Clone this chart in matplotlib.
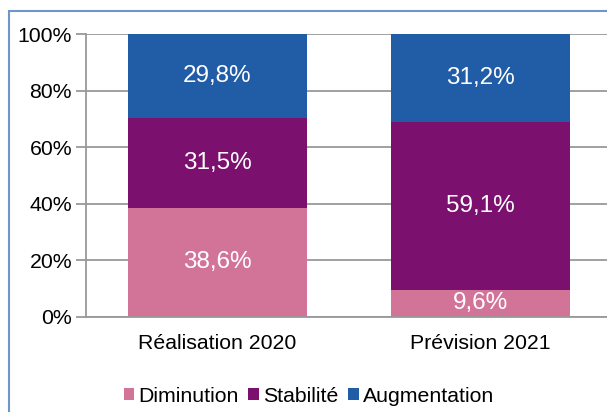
import matplotlib
matplotlib.use("Agg")
import matplotlib.pyplot as plt
from matplotlib.patches import Rectangle
import numpy as np

plt.rcParams['font.family'] = ['Liberation Sans', 'DejaVu Sans']

categories = ["Réalisation 2020", "Prévision 2021"]
series_names = ["Diminution", "Stabilité", "Augmentation"]
diminution = [38.6, 9.6]
stabilite = [31.5, 59.1]
augmentation = [29.8, 31.2]
colors = ["#D27498", "#7B106F", "#215CA6"]
yticks = [0, 20, 40, 60, 80, 100]

fig = plt.figure(figsize=(6.07, 4.12), dpi=100)
W, H = 607, 412
ax = fig.add_axes([86 / W, 1 - 317 / H, 526 / W, (317 - 34) / H])

data = np.array([diminution, stabilite, augmentation])
totals = data.sum(axis=0)
pct = data / totals * 100
x = np.arange(len(categories))
bottom = np.zeros(len(categories))
for i, name in enumerate(series_names):
    bars = ax.bar(x, pct[i], 0.677, bottom=bottom, color=colors[i], label=name, zorder=3)
    for j in range(len(categories)):
        ax.text(x[j], bottom[j] + pct[i][j] / 2, f"{data[i][j]:.1f}%".replace(".", ","),
                ha="center", va="center", color="white", fontsize=17.5, zorder=4)
    bottom += pct[i]

ax.set_xlim(-0.5, 1.5)
ax.set_ylim(0, 100)
ax.set_yticks(yticks)
ax.set_yticklabels([f"{t}%" for t in yticks], fontsize=15.3)
ax.set_xticks(x)
ax.set_xticklabels(categories, fontsize=15.3)
ax.tick_params(axis="x", length=0, pad=12)
ax.tick_params(axis="y", length=7, color="#999999", width=1.3, pad=3)
ax.grid(axis="y", color="#999999", linewidth=1.3, zorder=0)
for s in ["top", "right"]:
    ax.spines[s].set_visible(False)
for s in ["left", "bottom"]:
    ax.spines[s].set_color("#999999")
    ax.spines[s].set_linewidth(1.3)
ax.spines["bottom"].set_zorder(5)

leg = fig.legend(loc="center", bbox_to_anchor=(309 / W, 1 - 396 / H), ncol=3, frameon=False,
                 fontsize=15.3, handlelength=0.5, handleheight=0.5, handletextpad=0.2,
                 columnspacing=0.45)

fig.patches.append(Rectangle((8.5 / W, -0.1), 1.2, 1 - 10.5 / H + 0.1, transform=fig.transFigure,
                             fill=False, edgecolor="#6D97CC", linewidth=1.5))

fig.savefig("out.png", dpi=100)
